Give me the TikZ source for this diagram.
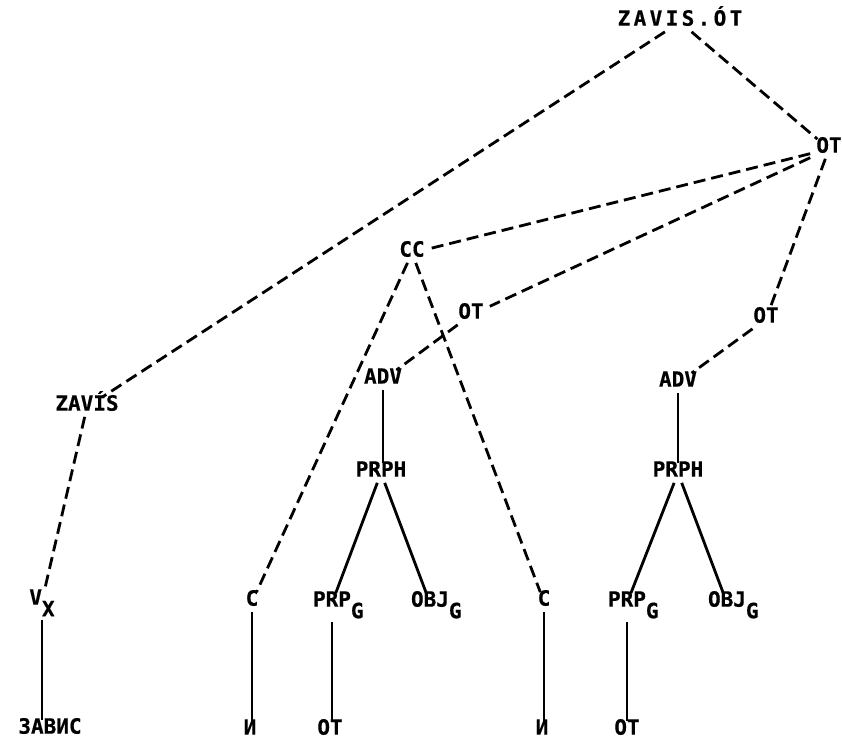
\documentclass[tikz,border=0pt]{standalone}
\usepackage{fontspec}
\newfontfamily\treefont[BoldFeatures={FakeBold=0.6}]{DejaVu Sans Mono}
\newfontfamily\titlefont[LetterSpace=16, BoldFeatures={FakeBold=0.6}]{DejaVu Sans Mono}
\usetikzlibrary{positioning}
\newcommand{\lowsub}[1]{\smash{\raisebox{-0.55em}{#1}}}

\begin{document}
\begin{tikzpicture}[
            x=1pt, y=-1pt,
            word/.style={inner sep=6pt, text height=0.73em, text depth=0pt, font=\fontsize{21}{21}\selectfont\treefont\bfseries},
            link/.style={line width=2.8pt},
            dlink/.style={line width=2.8pt, dash pattern=on 12pt off 6pt},
            subdrop/.style={shorten <=9pt}
        ]
            \useasboundingbox (0,0) rectangle (842,747);

            % Upper levels
            \node[word, font=\fontsize{21}{21}\selectfont\titlefont\bfseries] (zavisot) at (680,22) {ZAVIS.ÓT};
            \node[word] (ottop) at (829,149) {OT};
            \node[word] (cc) at (412,253) {CC};
            \node[word] (otmid) at (471,315) {OT};
            \node[word] (otright) at (766,319) {OT};
            \node[word] (advmid) at (383,380) {ADV};
            \node[word] (advright) at (678,383) {ADV};
            \node[word] (zavis) at (87,407) {ZAVÍS};
            \node[word] (prphmid) at (381,473) {PRPH};
            \node[word] (prphright) at (678,473) {PRPH};

            % Terminal categories
            \node[word] (vx) at (42,601) {V\lowsub{X}};
            \node[word] (cleft) at (252,602) {C};
            \node[word] (prpgmid) at (332,603) {PRP\rlap{\lowsub{G}}};
            \node[word] (objgmid) at (430,603) {OBJ\rlap{\lowsub{G}}};
            \node[word] (cright) at (544,602) {C};
            \node[word] (prpgright) at (627,603) {PRP\rlap{\lowsub{G}}};
            \node[word] (objgright) at (727,603) {OBJ\rlap{\lowsub{G}}};

            % Words
            \node[word] (zavisru) at (50,730) {ЗАВИС};
            \node[word] (ileft) at (250,731) {И};
            \node[word] (otbotmid) at (330,731) {OT};
            \node[word] (iright) at (542,731) {И};
            \node[word] (otbotright) at (627,731) {OT};

            % Dashed links
            \draw[dlink] (zavisot) -- (zavis);
            \draw[dlink] (zavisot) -- (ottop);
            \draw[dlink] (ottop) -- (cc);
            \draw[dlink] (ottop) -- (otmid);
            \draw[dlink] (ottop) -- (otright);
            \draw[dlink] (otmid) -- (advmid);
            \draw[dlink] (otright) -- (advright);
            \draw[dlink] (zavis) -- (vx);
            \draw[dlink] (cc) -- (cleft);
            \draw[dlink] (cc) -- (cright);

            % Solid links
            \draw[link] (advmid) -- (advmid |- prphmid.north);
            \draw[link] (advright) -- (prphright);
            \draw[link] (prphmid) -- (prpgmid);
            \draw[link] (prphmid) -- (objgmid);
            \draw[link] (prphright) -- (prpgright);
            \draw[link] (prphright) -- (objgright);
            \draw[link, subdrop] (vx) -- (vx |- zavisru.north);
            \draw[link] (cleft) -- (cleft |- ileft.north);
            \draw[link, subdrop] (prpgmid) -- (prpgmid |- otbotmid.north);
            \draw[link] (cright) -- (cright |- iright.north);
            \draw[link, subdrop] (prpgright) -- (prpgright |- otbotright.north);
        \end{tikzpicture}
\end{document}
